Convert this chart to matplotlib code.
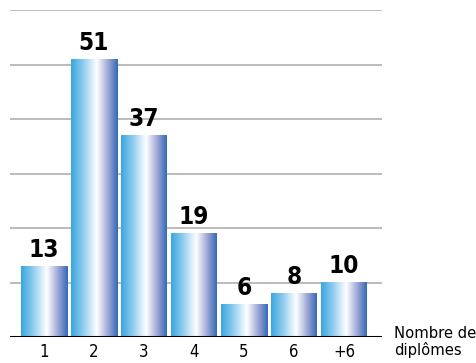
import numpy as np
import matplotlib
matplotlib.use("Agg")
import matplotlib.pyplot as plt
from matplotlib.colors import LinearSegmentedColormap

categories = ["1", "2", "3", "4", "5", "6", "+6"]
values = [13, 51, 37, 19, 6, 8, 10]

fig = plt.figure(figsize=(4.77, 3.63), dpi=100)
ax = fig.add_axes([10 / 477, 1 - 337 / 363, 372 / 477, 327 / 363])

# bar gradient: sky blue -> white -> deep blue
cmap = LinearSegmentedColormap.from_list(
    "bar", [(0.0, "#3aa6df"), (0.25, "#8ccbee"), (0.55, "#ffffff"),
            (0.78, "#a3abd8"), (1.0, "#3468b6")])
grad = np.linspace(0, 1, 256).reshape(1, -1)

x = np.arange(len(categories))
width = 0.92
for xi, v in zip(x, values):
    ax.imshow(grad, cmap=cmap, aspect="auto", interpolation="bicubic",
              extent=(xi - width / 2, xi + width / 2, 0, v), zorder=3)
    ax.text(xi, v + 0.8, str(v), ha="center", va="bottom", fontsize=17.5,
            fontweight="heavy", family="DejaVu Sans", stretch="condensed", zorder=4)

for g in range(10, 61, 10):
    ax.axhline(g, color="#b0b0b0", lw=1.2, zorder=1)
ax.axhline(0, color="black", lw=2.2, zorder=5)

ax.set_xlim(-0.68, 6.76)
ax.set_ylim(0, 60)
ax.set_xticks(x)
ax.set_xticklabels(categories, fontsize=12, family="DejaVu Sans", stretch="condensed")
ax.tick_params(axis="x", length=0, pad=4)
ax.set_yticks([])
for s in ax.spines.values():
    s.set_visible(False)

fig.text(394 / 477, 1 - 342 / 363, "Nombre de\ndiplômes", ha="left", va="center",
         fontsize=11.8, family="DejaVu Sans", stretch="condensed", linespacing=1.0)

fig.savefig("out.png", dpi=100)
